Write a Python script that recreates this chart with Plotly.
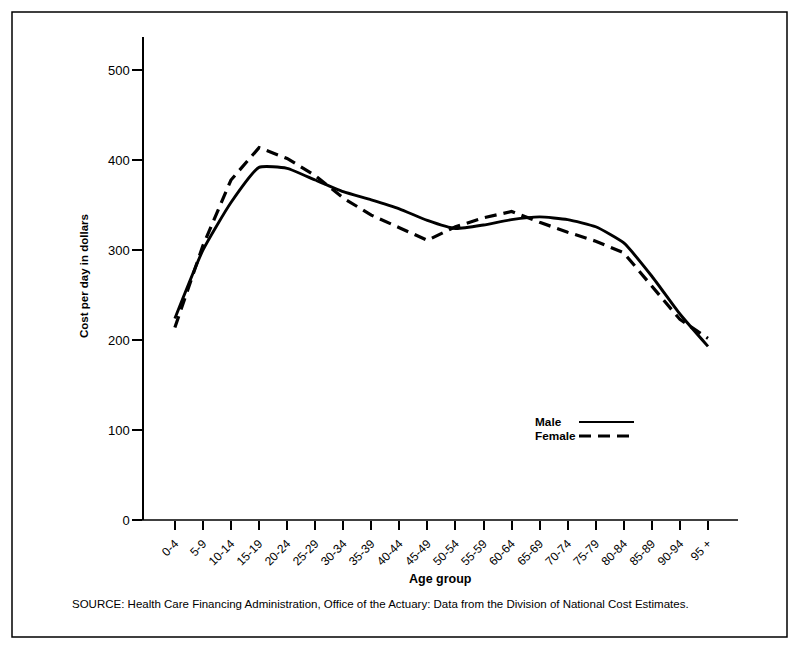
import plotly.graph_objects as go

age_groups = ["0-4", "5-9", "10-14", "15-19", "20-24", "25-29", "30-34", "35-39",
              "40-44", "45-49", "50-54", "55-59", "60-64", "65-69", "70-74", "75-79",
              "80-84", "85-89", "90-94", "95 +"]
male = [224, 300, 353, 392, 391, 378, 365, 356, 346, 333, 324, 328, 334, 337, 334, 326,
        308, 271, 229, 193]
female = [214, 305, 378, 414, 402, 383, 358, 339, 325, 311, 326, 336, 343, 331, 320, 310,
          297, 260, 223, 202]

# page is 796x649; the html body has an 8px margin, so the figure is 16px smaller
PAGE_W, PAGE_H, OFF = 796, 649, 8
W, H = PAGE_W - 2 * OFF, PAGE_H - 2 * OFF
# plot area in page pixels
L, R, T, B = 144, 738, 37, 520
FONT = "Liberation Sans, Arial, sans-serif"


def px(x):
    return (x - L) / (R - L)


def py(y):
    return (B - y) / (B - T)


idx = list(range(len(age_groups)))

fig = go.Figure()
fig.add_trace(go.Scatter(x=idx, y=male, mode="lines", name="Male",
                         line=dict(color="black", width=2.9, shape="spline", smoothing=0.5)))
fig.add_trace(go.Scatter(x=idx, y=female, mode="lines", name="Female",
                         line=dict(color="black", width=3.2, dash="12px,7px")))

fig.update_layout(
    width=W, height=H,
    margin=dict(l=L - OFF, r=W - (R - OFF), t=T - OFF, b=H - (B - OFF), pad=0),
    paper_bgcolor="white", plot_bgcolor="white",
    showlegend=False,
    font=dict(family=FONT, color="black"),
    xaxis=dict(range=[-1.1, 20.07], tickmode="array", tickvals=idx, ticktext=age_groups,
               tickangle=-45, ticks="outside", ticklen=9, tickwidth=1.5, tickcolor="black",
               ticklabelstandoff=2,
               showline=False, showgrid=False, zeroline=False,
               tickfont=dict(size=12, family=FONT)),
    yaxis=dict(range=[0, 537], tickvals=[0, 100, 200, 300, 400, 500],
               ticks="outside", ticklen=10, tickwidth=1.5, tickcolor="black",
               showline=True, linecolor="black", linewidth=1.5,
               showgrid=False, zeroline=False,
               tickfont=dict(size=13, family=FONT)),
)

# x axis line extending slightly left of the y axis
fig.add_shape(type="line", xref="paper", yref="paper", x0=px(135), x1=1, y0=0, y1=0,
              line=dict(color="black", width=1.5))
# outer border
fig.add_shape(type="rect", xref="paper", yref="paper", x0=px(12), x1=px(787),
              y0=py(637), y1=py(12), line=dict(color="black", width=1.5))

fig.add_annotation(text="<b>Cost per day in dollars</b>", xref="paper", yref="paper",
                   x=px(84), y=py(276), xanchor="center", yanchor="middle",
                   textangle=-90, showarrow=False,
                   font=dict(size=11.5, family=FONT))
fig.add_annotation(text="<b>Age group</b>", xref="paper", yref="paper",
                   x=px(440), y=py(579), xanchor="center", yanchor="middle",
                   showarrow=False, font=dict(size=12.5, family=FONT))
fig.add_annotation(text="SOURCE: Health Care Financing Administration, Office of the Actuary: Data from the Division of National Cost Estimates.",
                   xref="paper", yref="paper", x=px(70), y=py(604),
                   xanchor="left", yanchor="middle",
                   showarrow=False, font=dict(size=11.5, family=FONT))

# legend
fig.add_annotation(text="<b>Male</b>", xref="paper", yref="paper", x=px(533), y=py(422),
                   xanchor="left", yanchor="middle", showarrow=False,
                   font=dict(size=11.8, family=FONT))
fig.add_annotation(text="<b>Female</b>", xref="paper", yref="paper", x=px(533), y=py(436),
                   xanchor="left", yanchor="middle", showarrow=False,
                   font=dict(size=11.8, family=FONT))
fig.add_shape(type="line", xref="paper", yref="paper", x0=px(579), x1=px(634),
              y0=py(422), y1=py(422), line=dict(color="black", width=2))
fig.add_shape(type="line", xref="paper", yref="paper", x0=px(579), x1=px(634),
              y0=py(436), y1=py(436), line=dict(color="black", width=3, dash="12px,7px"))

fig.write_html("out.html")
